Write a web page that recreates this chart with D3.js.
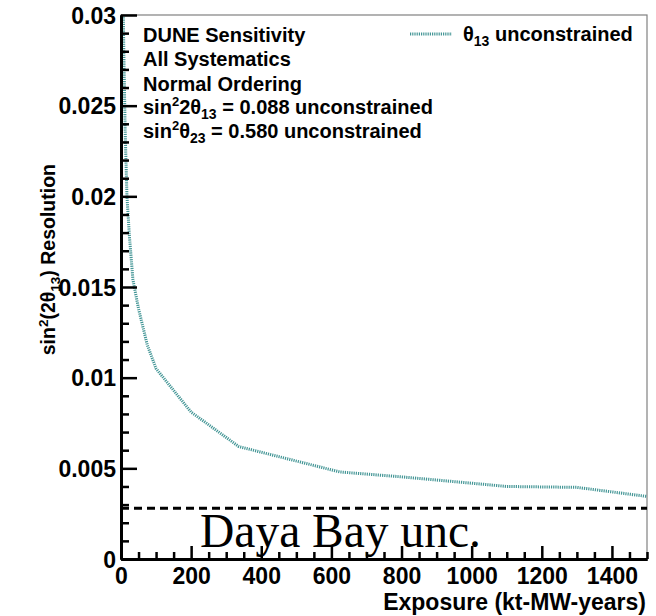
<!DOCTYPE html>
<html>
<head>
<meta charset="utf-8">
<script src="https://cdn.jsdelivr.net/npm/d3@7"></script>
<style>
  html, body { margin: 0; padding: 0; background: #fff; }
  svg { display: block; }
  text { font-family: "Liberation Sans", Arial, Helvetica, sans-serif; font-weight: bold; fill: #000; }
</style>
</head>
<body>
<svg id="chart" width="656" height="616"></svg>
<script>
// ---- data ----
const exposure   = [4, 8, 12, 17, 24, 34, 50, 75, 100, 200, 336, 624, 800, 1000, 1100, 1300, 1500];
const resolution = [0.034, 0.028, 0.0235, 0.020, 0.0178, 0.0154, 0.0138, 0.0118, 0.0105, 0.0081, 0.0062, 0.0048, 0.00453, 0.00418, 0.0040, 0.00395, 0.00345];
const dayaBayUnc = 0.0028;
const xTicks = [0, 200, 400, 600, 800, 1000, 1200, 1400];
const xTickLabels = ["0", "200", "400", "600", "800", "1000", "1200", "1400"];
const yTicks = [0, 0.005, 0.01, 0.015, 0.02, 0.025, 0.03];
const yTickLabels = ["0", "0.005", "0.01", "0.015", "0.02", "0.025", "0.03"];
const infoLines = ["DUNE Sensitivity", "All Systematics", "Normal Ordering"];

// ---- layout ----
const L = 121, R = 647, T = 15, B = 559;
const svg = d3.select("#chart");
const x = d3.scaleLinear().domain([0, 1500]).range([L, R]);
const y = d3.scaleLinear().domain([0, 0.03]).range([B, T]);
const teal = "#449696";

// frame (top/right thin gray)
svg.append("rect").attr("x", L).attr("y", T).attr("width", R - L).attr("height", B - T)
  .attr("fill", "none").attr("stroke", "#808080").attr("stroke-width", 1.2);

// clip
svg.append("clipPath").attr("id", "clip").append("rect")
  .attr("x", L).attr("y", T).attr("width", R - L).attr("height", B - T);

// curve
const pts = exposure.map((e, i) => [e, resolution[i]]);
svg.append("path").datum(pts)
  .attr("clip-path", "url(#clip)")
  .attr("fill", "none").attr("stroke", teal).attr("stroke-width", 3)
  .attr("stroke-dasharray", "1.2,1")
  .attr("d", d3.line().x(d => x(d[0])).y(d => y(d[1])));

// Daya Bay line
svg.append("line").attr("x1", x(0)).attr("x2", x(1500))
  .attr("y1", y(dayaBayUnc)).attr("y2", y(dayaBayUnc))
  .attr("stroke", "#000").attr("stroke-width", 3).attr("stroke-dasharray", "8,5");
svg.append("text").attr("x", 200).attr("y", 547)
  .style("font-family", "'Liberation Serif', 'Times New Roman', serif")
  .style("font-weight", "normal").style("font-size", "47.5px")
  .text("Daya Bay unc.");

// minor ticks
const xMinor = d3.range(0, 1501, 50).filter(v => v % 200 !== 0);
const yMinor = d3.range(0, 31, 1).map(v => v / 1000).filter((v, i) => i % 5 !== 0);

const xMinorAxis = svg.append("g").attr("transform", `translate(0,${B})`)
  .call(d3.axisBottom(x).tickValues(xMinor).tickSize(-7).tickSizeOuter(0).tickFormat(""));
const yMinorAxis = svg.append("g").attr("transform", `translate(${L},0)`)
  .call(d3.axisLeft(y).tickValues(yMinor).tickSize(-8).tickSizeOuter(0).tickFormat(""));

// major axes
const xAxis = svg.append("g").attr("transform", `translate(0,${B})`)
  .call(d3.axisBottom(x).tickValues(xTicks).tickSize(-13).tickSizeOuter(0).tickPadding(8)
    .tickFormat((d, i) => xTickLabels[i]));
const yAxis = svg.append("g").attr("transform", `translate(${L},0)`)
  .call(d3.axisLeft(y).tickValues(yTicks).tickSize(-16).tickSizeOuter(0).tickPadding(5)
    .tickFormat((d, i) => yTickLabels[i]));

[xMinorAxis, yMinorAxis, xAxis, yAxis].forEach(g => {
  g.selectAll(".tick line").attr("stroke", "#000").attr("stroke-width", 2.5);
  g.select(".domain").attr("stroke", "#000").attr("stroke-width", 3);
});
[xAxis, yAxis].forEach(g => {
  g.selectAll(".tick text").style("font-family", "'Liberation Sans', Arial, sans-serif")
    .style("font-weight", "bold").style("font-size", "23px").attr("fill", "#000");
});
xAxis.selectAll(".tick text").attr("dy", "0.71em").attr("y", 8.5);
yAxis.selectAll(".tick text").attr("dy", "0.36em");

// axis titles
svg.append("text").attr("x", 646).attr("y", 609.5).attr("text-anchor", "end")
  .style("font-size", "23px").text("Exposure (kt-MW-years)");

const yt = svg.append("text").attr("transform", "translate(55,164) rotate(-90)")
  .attr("text-anchor", "end").style("font-size", "19.5px");
yt.append("tspan").text("sin");
yt.append("tspan").attr("dy", -7).style("font-size", "13.5px").text("2");
yt.append("tspan").attr("dy", 7).text("(2θ");
yt.append("tspan").attr("dy", 5).style("font-size", "13.5px").text("13");
yt.append("tspan").attr("dy", -5).text(") Resolution");

// info text
const tx = 143, fs = "20px";
infoLines.forEach((s, i) => {
  svg.append("text").attr("x", tx).attr("y", 42 + i * 24.3).style("font-size", fs).text(s);
});
function sinLine(yPos, pre, sub, rest) {
  const t = svg.append("text").attr("x", tx).attr("y", yPos).style("font-size", fs);
  t.append("tspan").text("sin");
  t.append("tspan").attr("dy", -8).style("font-size", "13px").text("2");
  t.append("tspan").attr("dy", 8).text(pre);
  t.append("tspan").attr("dy", 5).style("font-size", "14px").text(sub);
  t.append("tspan").attr("dy", -5).text(rest);
}
sinLine(114, "2θ", "13", " = 0.088 unconstrained");
sinLine(138, "θ", "23", " = 0.580 unconstrained");

// legend
svg.append("line").attr("x1", 410).attr("x2", 452).attr("y1", 34).attr("y2", 34)
  .attr("stroke", teal).attr("stroke-width", 3).attr("stroke-dasharray", "1.2,1");
const lg = svg.append("text").attr("x", 463).attr("y", 41).style("font-size", fs);
lg.append("tspan").text("θ");
lg.append("tspan").attr("dy", 5).style("font-size", "14px").text("13");
lg.append("tspan").attr("dy", -5).text(" unconstrained");
</script>
</body>
</html>
